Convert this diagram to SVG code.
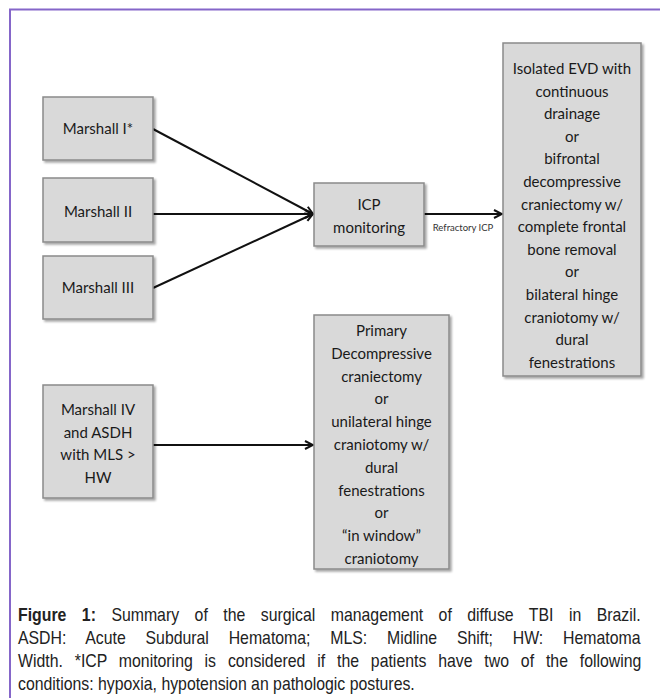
<svg xmlns="http://www.w3.org/2000/svg" width="660" height="698" viewBox="0 0 660 698">
<defs>
<filter id="sh" x="-10%" y="-10%" width="130%" height="130%">
<feDropShadow dx="2" dy="2" stdDeviation="1.2" flood-color="#000" flood-opacity="0.35"/>
</filter>
<marker id="arr" viewBox="0 0 10 10" refX="9" refY="5" markerWidth="5" markerHeight="5" orient="auto" markerUnits="strokeWidth">
<path d="M1,1 L9,5 L1,9" fill="none" stroke="#111" stroke-width="2"/>
</marker>
<style>
.box{fill:#d9d9d9;stroke:#8a8a8a;stroke-width:1.5;filter:url(#sh)}
.t{font-family:Lato,"Open Sans",sans-serif;font-size:15px;fill:#1a1a1a;text-anchor:middle}
.lbl{font-family:Lato,"Open Sans",sans-serif;font-size:9.5px;fill:#333;text-anchor:middle}
.c{stroke:#111;stroke-width:2;fill:none;marker-end:url(#arr)}
.cap{font-family:"Liberation Sans",Arial,sans-serif;font-size:18px;fill:#222}
.frame{stroke:#8566c9;stroke-width:2;fill:none}
</style>
</defs>
<rect width="660" height="698" fill="#fff"/>
<path class="frame" d="M10,698 L10,9.5 L660,9.5"/>

<g id="connectors">
<line class="c" x1="153" y1="129" x2="313" y2="214"/>
<line class="c" x1="153" y1="214" x2="313" y2="214"/>
<line class="c" x1="153" y1="288" x2="313" y2="214"/>
<line class="c" x1="424" y1="214" x2="502" y2="214"/>
<text class="lbl" x="463" y="231">Refractory ICP</text>
<line class="c" x1="153" y1="445" x2="313" y2="445"/>
</g>

<g id="marshall1">
<rect class="box" x="43" y="97" width="110" height="63"/>
<text class="t" x="98" y="134">Marshall I*</text>
</g>
<g id="marshall2">
<rect class="box" x="43" y="178" width="110" height="64"/>
<text class="t" x="98" y="217">Marshall II</text>
</g>
<g id="marshall3">
<rect class="box" x="43" y="256" width="110" height="63"/>
<text class="t" x="98" y="293">Marshall III</text>
</g>
<g id="icp">
<rect class="box" x="314" y="183" width="110" height="63"/>
<text class="t" x="369" y="210">ICP</text>
<text class="t" x="369" y="233">monitoring</text>
</g>
<g id="refractory">
<rect class="box" x="503" y="43" width="138" height="333"/>
<text class="t" x="572" y="74">Isolated EVD with</text>
<text class="t" x="572" y="96.6">continuous</text>
<text class="t" x="572" y="119.2">drainage</text>
<text class="t" x="572" y="141.8">or</text>
<text class="t" x="572" y="164.4">bifrontal</text>
<text class="t" x="572" y="187">decompressive</text>
<text class="t" x="572" y="209.6">craniectomy w/</text>
<text class="t" x="572" y="232.2">complete frontal</text>
<text class="t" x="572" y="254.8">bone removal</text>
<text class="t" x="572" y="277.4">or</text>
<text class="t" x="572" y="300">bilateral hinge</text>
<text class="t" x="572" y="322.6">craniotomy w/</text>
<text class="t" x="572" y="345.2">dural</text>
<text class="t" x="572" y="367.8">fenestrations</text>
</g>
<g id="marshall4">
<rect class="box" x="43" y="385" width="110" height="113"/>
<text class="t" x="98" y="415">Marshall IV</text>
<text class="t" x="98" y="438">and ASDH</text>
<text class="t" x="98" y="460">with MLS &gt;</text>
<text class="t" x="98" y="483">HW</text>
</g>
<g id="primary">
<rect class="box" x="314" y="315" width="135" height="254"/>
<text class="t" x="381.5" y="336">Primary</text>
<text class="t" x="381.5" y="358.8">Decompressive</text>
<text class="t" x="381.5" y="381.6">craniectomy</text>
<text class="t" x="381.5" y="404.4">or</text>
<text class="t" x="381.5" y="427.2">unilateral hinge</text>
<text class="t" x="381.5" y="450">craniotomy w/</text>
<text class="t" x="381.5" y="472.8">dural</text>
<text class="t" x="381.5" y="495.6">fenestrations</text>
<text class="t" x="381.5" y="518.4">or</text>
<text class="t" x="381.5" y="541.2">“in window”</text>
<text class="t" x="381.5" y="564">craniotomy</text>
</g>

<g id="caption" transform="translate(18,0) scale(0.88,1)">
<text class="cap" x="0" y="621" word-spacing="12.6"><tspan font-weight="bold">Figure 1:</tspan> Summary of the surgical management of diffuse TBI in Brazil.</text>
<text class="cap" x="0" y="644" word-spacing="17.5">ASDH: Acute Subdural Hematoma; MLS: Midline Shift; HW: Hematoma</text>
<text class="cap" x="0" y="667" word-spacing="8.5">Width. *ICP monitoring is considered if the patients have two of the following</text>
<text class="cap" x="0" y="690">conditions: hypoxia, hypotension an pathologic postures.</text>
</g>
</svg>
